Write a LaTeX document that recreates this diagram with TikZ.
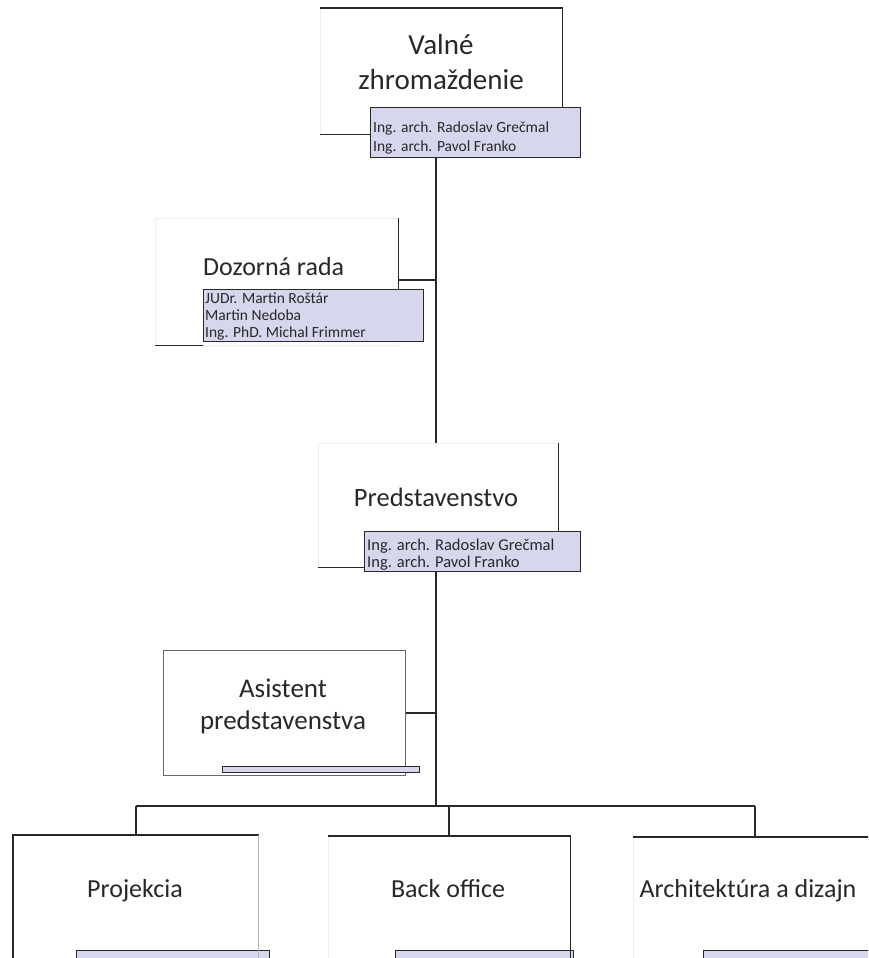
\documentclass[tikz,border=0pt]{standalone}
\usepackage{fontspec}
\setmainfont{Carlito}
\definecolor{boxfill}{RGB}{214,214,236}
\definecolor{faint}{RGB}{238,238,238}
\definecolor{ink}{RGB}{40,40,40}
\begin{document}
\begin{tikzpicture}[x=1pt,y=-1pt,
  bigbox/.style={draw=faint, line width=0.7pt, inner sep=0pt, anchor=north west},
  bluebox/.style={draw=ink, fill=boxfill, line width=1.2pt, inner sep=0pt, anchor=north west},
  edgeline/.style={draw=ink, line width=1.4pt},
  softedge/.style={draw=ink!35, line width=1pt},
  conn/.style={draw=ink, line width=1.8pt},
  title/.style={align=center, text=ink, inner sep=0pt},
  member/.style={align=left, text=ink, anchor=base west, inner sep=0pt}]
\useasboundingbox (0,0) rectangle (868,958);
\fill[white] (0,0) rectangle (868,958);
\clip (0,0) rectangle (868,958);

% Valne zhromazdenie
\node[bigbox, minimum width=242pt, minimum height=126pt] (vz) at (320,8) {};
\node[title, font=\fontsize{29}{35}\selectfont] (vzt) at (441,62) {Valné\\zhromaždenie};
\node[bluebox, minimum width=210pt, minimum height=50pt] (vzm) at (370,107) {};
\node[member, font=\fontsize{15.5}{19}\selectfont] (vzmt) at (373,151) {Ing. arch. Radoslav Grečmal\\Ing. arch. Pavol Franko};
\draw[edgeline] (vz.north west) -- (vz.north east) -- (vz.north east |- vzm.north);
\draw[edgeline] (vz.south west) -- (vz.south west -| vzm.west);

% Dozorna rada
\node[bigbox, minimum width=243pt, minimum height=127pt] (dr) at (155,218) {};
\node[title, font=\fontsize{26}{31}\selectfont, anchor=base west] (drt) at (203,275) {Dozorná rada};
\node[bluebox, minimum width=220pt, minimum height=52pt] (drm) at (203,289) {};
\node[member, font=\fontsize{15.5}{17}\selectfont] (drmt) at (205,337) {JUDr. Martin Roštár\\Martin Nedoba\\Ing. PhD. Michal Frimmer};
\draw[edgeline] (dr.north east) -- (dr.north east |- drm.north);
\draw[edgeline] (dr.south west) -- (dr.south west -| drm.west);

% Predstavenstvo
\node[bigbox, minimum width=240pt, minimum height=124pt] (pr) at (318,443) {};
\node[title, font=\fontsize{26.5}{31}\selectfont, anchor=base] (prt) at (436,506) {Predstavenstvo};
\node[bluebox, minimum width=216pt, minimum height=40pt] (prm) at (364,531) {};
\node[member, font=\fontsize{16.5}{17}\selectfont] (prmt) at (367,567) {Ing. arch. Radoslav Grečmal\\Ing. arch. Pavol Franko};
\draw[edgeline] (pr.north east) -- (pr.north east |- prm.north);
\draw[edgeline] (pr.south west) -- (pr.south west -| prm.west);

% Asistent
\node[bigbox, draw=ink!70, line width=1pt, minimum width=242pt, minimum height=125pt] (as) at (163,650) {};
\node[title, font=\fontsize{27}{32}\selectfont] (ast) at (283,706) {Asistent\\predstavenstva};
\node[bluebox, line width=0.8pt, minimum width=197pt, minimum height=6pt] (asb) at (222,766) {};

% Bottom row
\node[bigbox, minimum width=245pt, minimum height=150pt] (pj) at (13,835) {};
\node[title, font=\fontsize{26}{31}\selectfont, anchor=base] (pjt) at (135,897) {Projekcia};
\node[bluebox, line width=0.8pt, minimum width=193pt, minimum height=14pt] (pjb) at (76,950) {};
\draw[edgeline] (pj.south west) -- (pj.north west) -- (pj.north east);
\draw[softedge] (pj.north east) -- (pj.south east);

\node[bigbox, minimum width=242pt, minimum height=150pt] (bo) at (328,836) {};
\node[title, font=\fontsize{26}{31}\selectfont, anchor=base] (bot) at (448,897) {Back office};
\node[bluebox, line width=0.8pt, minimum width=178pt, minimum height=14pt] (bob) at (395,950) {};
\draw[edgeline] (bo.north west) -- (bo.north east) -- (bo.south east);

\node[bigbox, minimum width=244pt, minimum height=150pt] (ar) at (633,837) {};
\node[title, font=\fontsize{26}{31}\selectfont, anchor=base] (art) at (748,897) {Architektúra a dizajn};
\node[bluebox, line width=0.8pt, minimum width=180pt, minimum height=14pt] (arb) at (703,950) {};
\draw[edgeline] (ar.north west) -- (ar.north east);

% Connectors
\coordinate (j1) at (436,280);
\coordinate (bus) at (436,806);
\draw[conn] (j1 |- vzm.south) -- (j1 |- pr.north);
\draw[conn] (j1) -- (j1 -| dr.east);
\draw[conn] (j1 |- prm.south) -- (bus);
\draw[conn] (as.east) -- (as.east -| j1);
\draw[conn] (pj.north |- bus) -- (ar.north |- bus);
\draw[conn] (pj.north |- bus) -- (pj.north);
\draw[conn] (bo.north |- bus) -- (bo.north);
\draw[conn] (ar.north |- bus) -- (ar.north);
\end{tikzpicture}
\end{document}
